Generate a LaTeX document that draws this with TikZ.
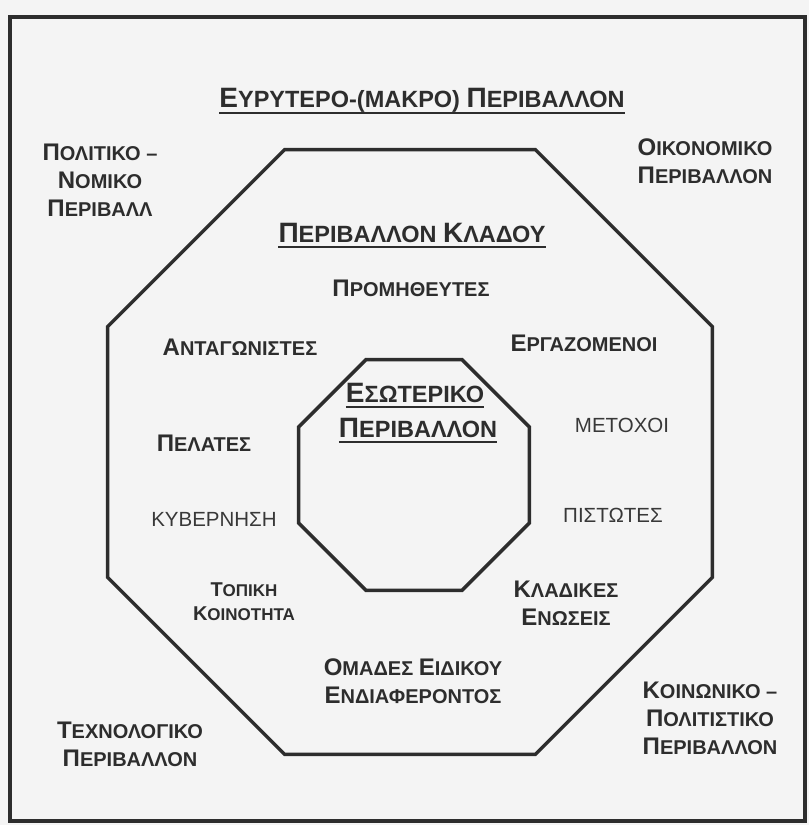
\documentclass[tikz,border=0pt]{standalone}
\usepackage{fontspec}
\setmainfont{Liberation Sans}
\usetikzlibrary{shapes.geometric}
\definecolor{Ink}{RGB}{45,45,45}
\definecolor{Paper}{RGB}{244,244,244}
% first letter of a word in larger caps
\def\inisz{24}
\newcommand\ini[1]{{\fontsize{\inisz}{\inisz}\selectfont#1}}

\begin{document}
\begin{tikzpicture}[x=1pt,y=-1pt,
  octa/.style={draw=Ink,line width=3.5pt,regular polygon,regular polygon sides=8,inner sep=0pt},
  lbl/.style={text=Ink,align=center,font={\bfseries\def\inisz{24}\fontsize{20}{28}\selectfont}},
  lblsmall/.style={text=Ink,align=center,font={\bfseries\def\inisz{20}\fontsize{17}{24}\selectfont}},
  plain/.style={text=Ink!95,font=\fontsize{20.5}{24}\selectfont},
  head/.style={text=Ink,inner sep=0pt,anchor=base,font={\bfseries\def\inisz{28}\fontsize{23.5}{28}\selectfont}},
  uline/.style={Ink,line width=2pt}]
\useasboundingbox (0,0) rectangle (809,825);
\fill[Paper] (0,0) rectangle (809,825);
\draw[Ink,line width=3.5pt] (10,17) rectangle (805,821);

% the two rings
\node[octa,minimum size=654.8pt] (outer) at (410,452) {};
\node[octa,minimum size=250pt] (inner) at (414,475) {};

% headings
\node[head] (title) at (422,107) {\ini{Ε}ΥΡΥΤΕΡΟ-(ΜΑΚΡΟ) \ini{Π}ΕΡΙΒΑΛΛΟΝ};
\node[head] (klados) at (412,242) {\ini{Π}ΕΡΙΒΑΛΛΟΝ \ini{Κ}ΛΑΔΟΥ};
\node[head] (inA) at (415,402) {\ini{Ε}ΣΩΤΕΡΙΚΟ};
\node[head] (inB) at (418,437) {\ini{Π}ΕΡΙΒΑΛΛΟΝ};
\foreach \n/\d in {title/6,klados/5,inA/5,inB/5}
  \draw[uline] ([yshift=-\d pt]\n.base west) -- ([yshift=-\d pt]\n.base east);

% macro environment
\node[lbl] (polit) at (100,180) {\ini{Π}ΟΛΙΤΙΚΟ –\\\ini{Ν}ΟΜΙΚΟ\\\ini{Π}ΕΡΙΒΑΛΛ};
\node[lbl] (oikon) at (705,161) {\ini{Ο}ΙΚΟΝΟΜΙΚΟ\\\ini{Π}ΕΡΙΒΑΛΛΟΝ};
\node[lbl] (koin) at (710,718) {\ini{Κ}ΟΙΝΩΝΙΚΟ –\\\ini{Π}ΟΛΙΤΙΣΤΙΚΟ\\\ini{Π}ΕΡΙΒΑΛΛΟΝ};
\node[lbl] (techn) at (130,744) {\ini{Τ}ΕΧΝΟΛΟΓΙΚΟ\\\ini{Π}ΕΡΙΒΑΛΛΟΝ};

% industry environment
\node[lbl] (prom) at (411,288) {\ini{Π}ΡΟΜΗΘΕΥΤΕΣ};
\node[lbl] (antag) at (240,347) {\ini{Α}ΝΤΑΓΩΝΙΣΤΕΣ};
\node[lbl] (ergaz) at (584,343) {\ini{Ε}ΡΓΑΖΟΜΕΝΟΙ};
\node[lbl] (pelat) at (204,443) {\ini{Π}ΕΛΑΤΕΣ};
\node[plain] (metox) at (622,425) {ΜΕΤΟΧΟΙ};
\node[plain] (kyvern) at (214,519) {ΚΥΒΕΡΝΗΣΗ};
\node[plain] (pistot) at (613,515) {ΠΙΣΤΩΤΕΣ};
\node[lblsmall] (topik) at (244,602) {\ini{Τ}ΟΠΙΚΗ\\\ini{Κ}ΟΙΝΟΤΗΤΑ};
\node[lbl] (kladik) at (566,603) {\ini{Κ}ΛΑΔΙΚΕΣ\\\ini{Ε}ΝΩΣΕΙΣ};
\node[lbl] (omad) at (413,681) {\ini{Ο}ΜΑΔΕΣ \ini{Ε}ΙΔΙΚΟΥ\\\ini{Ε}ΝΔΙΑΦΕΡΟΝΤΟΣ};
\end{tikzpicture}
\end{document}
